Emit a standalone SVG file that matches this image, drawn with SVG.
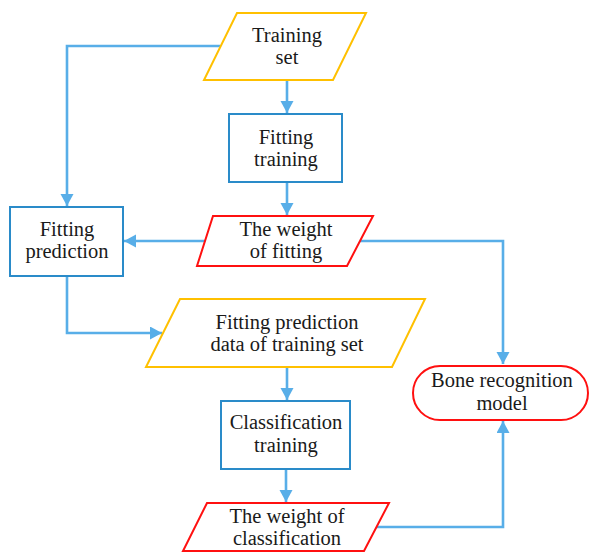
<svg xmlns="http://www.w3.org/2000/svg" width="590" height="553" viewBox="0 0 590 553">
<defs>
<style>
.t{font-family:"Liberation Serif","Times New Roman",serif;font-size:20.5px;fill:#1a1a1a;text-anchor:middle}
.box{fill:#fff;stroke:#2a8bc9;stroke-width:2}
.yel{fill:#fff;stroke:#ffc000;stroke-width:2}
.red{fill:#fff;stroke:#ff1010;stroke-width:2}
.c{fill:none;stroke:#58aee8;stroke-width:2.6}
</style>
<marker id="ah" markerUnits="userSpaceOnUse" markerWidth="13" markerHeight="14" refX="12" refY="6.5" orient="auto">
<path d="M0,0 L12,6.5 L0,13 z" fill="#58aee8"/>
</marker>
</defs>
<rect width="590" height="553" fill="#fff"/>
<g id="connectors">
<path class="c" d="M287,80 V113" marker-end="url(#ah)"/>
<path class="c" d="M220,46 H67 V206" marker-end="url(#ah)"/>
<path class="c" d="M287,182 V215" marker-end="url(#ah)"/>
<path class="c" d="M205,241 H124" marker-end="url(#ah)"/>
<path class="c" d="M360,241 H503 V364" marker-end="url(#ah)"/>
<path class="c" d="M67,276 V333 H162" marker-end="url(#ah)"/>
<path class="c" d="M287,367 V400" marker-end="url(#ah)"/>
<path class="c" d="M286,469 V502" marker-end="url(#ah)"/>
<path class="c" d="M376,527 H503 V421" marker-end="url(#ah)"/>
</g>
<g id="training-set">
<polygon class="yel" points="237,13 366,13 333,80 204,80"/>
<text class="t" x="287" y="42">Training</text>
<text class="t" x="287" y="64">set</text>
</g>
<g id="fitting-training">
<rect class="box" x="229" y="114" width="113" height="68"/>
<text class="t" x="286" y="144">Fitting</text>
<text class="t" x="286" y="166">training</text>
</g>
<g id="weight-of-fitting">
<polygon class="red" points="213,216 373,216 347,266 197,266"/>
<text class="t" x="286" y="236">The weight</text>
<text class="t" x="286" y="258">of fitting</text>
</g>
<g id="fitting-prediction">
<rect class="box" x="10" y="207" width="113" height="69"/>
<text class="t" x="67" y="236">Fitting</text>
<text class="t" x="67" y="258">prediction</text>
</g>
<g id="fitting-prediction-data">
<polygon class="yel" points="180,299 425,299 392,367 146,367"/>
<text class="t" x="287" y="329">Fitting prediction</text>
<text class="t" x="287" y="351">data of training set</text>
</g>
<g id="classification-training">
<rect class="box" x="221" y="401" width="129" height="68"/>
<text class="t" x="286" y="429">Classification</text>
<text class="t" x="286" y="452">training</text>
</g>
<g id="weight-of-classification">
<polygon class="red" points="207,503 389,503 364,551 183,551"/>
<text class="t" x="287" y="523">The weight of</text>
<text class="t" x="287" y="545">classification</text>
</g>
<g id="bone-recognition-model">
<rect class="red" x="413" y="366" width="175" height="54" rx="27" ry="27"/>
<text class="t" x="502" y="387">Bone recognition</text>
<text class="t" x="502" y="410">model</text>
</g>
</svg>
